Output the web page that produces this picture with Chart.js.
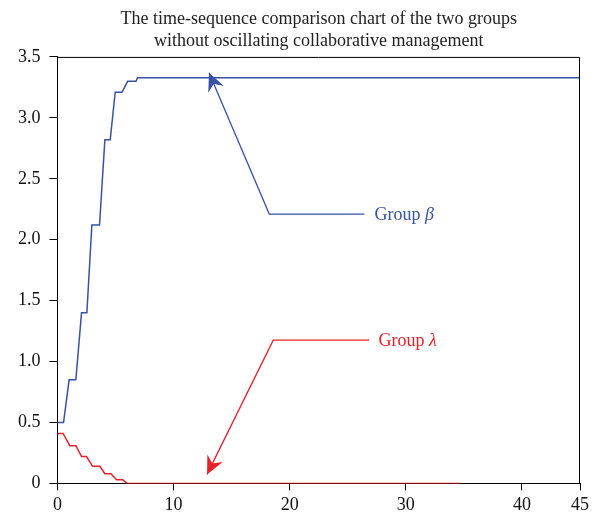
<!DOCTYPE html>
<html>
<head>
<meta charset="utf-8">
<script src="https://cdn.jsdelivr.net/npm/chart.js@4"></script>
<style>
  html, body { margin: 0; padding: 0; background: #fff; }
  #wrap { width: 600px; height: 521px; }
</style>
</head>
<body>
<div id="wrap"><canvas id="chart"></canvas></div>
<script>
// time axis and values
const betaTime = [0, 0.52, 1.0, 1.58, 2.07, 2.53, 2.96, 3.62, 4.08, 4.54, 4.97, 5.55, 6.04, 6.76, 6.9, 45];
const betaValues = [0.5, 0.5, 0.85, 0.85, 1.40, 1.40, 2.12, 2.12, 2.82, 2.82, 3.21, 3.21, 3.30, 3.30, 3.33, 3.33];
const lambdaTime = [0, 0.48, 1.06, 1.58, 2.07, 2.50, 3.02, 3.65, 4.08, 4.60, 5.09, 5.61, 5.98, 34.74];
const lambdaValues = [0.41, 0.41, 0.31, 0.31, 0.22, 0.22, 0.14, 0.14, 0.08, 0.08, 0.03, 0.03, 0, 0];
const xTicks = [0, 10, 20, 30, 40, 45];
const yTicks = [0, 0.5, 1.0, 1.5, 2.0, 2.5, 3.0, 3.5];
const titleLines = ['The time-sequence comparison chart of the two groups', 'without oscillating collaborative management'];

// callouts in data units: arrow tip, knee, end of the flat leg, label
const callouts = [
    { name: 'Group ', symbol: 'β', color: '#3651a6', tip: [13.05, 3.37], knee: [18.24, 2.21], end: 26.43, textX: 27.3 },
    { name: 'Group ', symbol: 'λ', color: '#e8202a', tip: [12.88, 0.074], knee: [18.58, 1.175], end: 26.86, textX: 27.64 }
];

const serif = "'Liberation Serif', 'DejaVu Serif', serif";

function toPoints(xs, ys) {
    return xs.map((x, i) => ({ x: x, y: ys[i] }));
}

const frameAndCallouts = {
    id: 'frameAndCallouts',
    afterDatasetsDraw(chart) {
        const ctx = chart.ctx;
        const area = chart.chartArea;
        const xs = chart.scales.x;
        const ys = chart.scales.y;

        // box around the plot
        ctx.save();
        ctx.strokeStyle = '#000';
        ctx.lineWidth = 1;
        ctx.beginPath();
        ctx.moveTo(area.left, area.top + 0.5);
        ctx.lineTo(area.right - 0.5, area.top + 0.5);
        ctx.lineTo(area.right - 0.5, area.bottom);
        ctx.stroke();

        callouts.forEach(c => {
            const tx = xs.getPixelForValue(c.tip[0]);
            const ty = ys.getPixelForValue(c.tip[1]);
            const kx = xs.getPixelForValue(c.knee[0]);
            const ky = ys.getPixelForValue(c.knee[1]);
            const ex = xs.getPixelForValue(c.end);

            ctx.strokeStyle = c.color;
            ctx.fillStyle = c.color;
            ctx.lineWidth = 1.3;
            ctx.beginPath();
            ctx.moveTo(ex, ky);
            ctx.lineTo(kx, ky);
            ctx.lineTo(tx, ty);
            ctx.stroke();

            // barbed arrow head
            const ang = Math.atan2(ty - ky, tx - kx);
            const len = 18, half = 8.5, notch = 12;
            const bx = Math.cos(ang), by = Math.sin(ang);
            const px = -by, py = bx;
            ctx.beginPath();
            ctx.moveTo(tx, ty);
            ctx.lineTo(tx - bx * len + px * half, ty - by * len + py * half);
            ctx.lineTo(tx - bx * notch, ty - by * notch);
            ctx.lineTo(tx - bx * len - px * half, ty - by * len - py * half);
            ctx.closePath();
            ctx.fill();

            // label
            ctx.textBaseline = 'middle';
            ctx.textAlign = 'left';
            const lx = xs.getPixelForValue(c.textX);
            ctx.font = '18px ' + serif;
            ctx.fillText(c.name, lx, ky + 1);
            const w = ctx.measureText(c.name).width;
            ctx.font = 'italic 18px ' + serif;
            ctx.fillText(c.symbol, lx + w, ky + 1);
        });
        ctx.restore();
    }
};

new Chart(document.getElementById('chart'), {
    type: 'line',
    data: {
        datasets: [
            {
                label: 'Group β',
                data: toPoints(betaTime, betaValues),
                borderColor: '#3651a6',
                borderWidth: 1.5,
                pointRadius: 0,
                tension: 0
            },
            {
                label: 'Group λ',
                data: toPoints(lambdaTime, lambdaValues),
                borderColor: '#e8202a',
                borderWidth: 1.5,
                pointRadius: 0,
                tension: 0
            }
        ]
    },
    options: {
        responsive: true,
        maintainAspectRatio: false,
        animation: false,
        layout: { padding: { left: 9, right: 20, top: 8, bottom: 1 } },
        plugins: {
            legend: { display: false },
            tooltip: { enabled: false },
            title: {
                display: true,
                fullSize: false,
                text: titleLines,
                color: '#222',
                font: { family: serif, size: 18, weight: 'normal', lineHeight: 1.22 },
                padding: { top: 0, bottom: 5 }
            }
        },
        scales: {
            x: {
                type: 'linear',
                min: 0,
                max: 45,
                afterBuildTicks: axis => { axis.ticks = xTicks.map(v => ({ value: v })); },
                ticks: {
                    color: '#111',
                    font: { family: serif, size: 18 },
                    padding: 4,
                    maxRotation: 0
                },
                grid: { drawOnChartArea: false, drawTicks: true, tickLength: 7, color: '#000' },
                border: { display: true, color: '#000', width: 1 }
            },
            y: {
                min: 0,
                max: 3.5,
                afterBuildTicks: axis => { axis.ticks = yTicks.map(v => ({ value: v })); },
                ticks: {
                    color: '#111',
                    font: { family: serif, size: 18 },
                    padding: 9,
                    callback: v => v === 0 ? '0' : v.toFixed(1)
                },
                grid: { drawOnChartArea: false, drawTicks: true, tickLength: 8, color: '#000' },
                border: { display: true, color: '#000', width: 1 }
            }
        }
    },
    plugins: [frameAndCallouts]
});
</script>
</body>
</html>
